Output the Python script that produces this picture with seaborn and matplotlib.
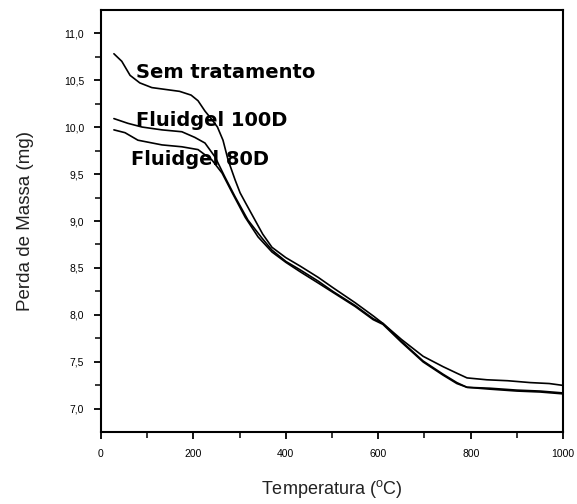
import numpy as np
import pandas as pd
import matplotlib
matplotlib.use("Agg")
import matplotlib.pyplot as plt
from matplotlib.ticker import MultipleLocator, FuncFormatter
import seaborn as sns

# data (temperature in C, mass in mg)
sem_temp = [28, 45, 63, 84, 110, 140, 170, 195, 210, 225, 240, 252, 264, 275, 290, 301,
            312, 331, 350, 370, 400, 431, 470, 502, 550, 589, 610, 650, 697, 740, 770,
            792, 835, 880, 929, 970, 1000]
sem_mass = [10.78, 10.70, 10.55, 10.47, 10.42, 10.40, 10.38, 10.34, 10.28, 10.17, 10.08, 10.00,
            9.86, 9.65, 9.44, 9.30, 9.20, 9.03, 8.86, 8.72, 8.61, 8.52, 8.40, 8.29, 8.13,
            7.99, 7.91, 7.74, 7.56, 7.45, 7.38, 7.33, 7.31, 7.30, 7.28, 7.27, 7.25]

f100_temp = [28, 58, 89, 132, 175, 203, 225, 247, 268, 290, 318, 348, 370, 400, 431, 470,
             502, 550, 589, 610, 650, 697, 740, 770, 792, 842, 900, 950, 1000]
f100_mass = [10.09, 10.04, 10.00, 9.97, 9.95, 9.89, 9.83, 9.68, 9.47, 9.26, 9.01, 8.82,
             8.69, 8.57, 8.48, 8.36, 8.25, 8.10, 7.96, 7.91, 7.72, 7.51, 7.37, 7.28, 7.23,
             7.22, 7.20, 7.19, 7.17]

f80_temp = [28, 52, 80, 132, 175, 210, 240, 262, 284, 312, 340, 370, 400, 431, 470, 502,
            550, 589, 610, 650, 697, 740, 770, 792, 842, 900, 950, 1000]
f80_mass = [9.97, 9.94, 9.86, 9.81, 9.79, 9.76, 9.65, 9.51, 9.30, 9.04, 8.83, 8.67, 8.56,
            8.46, 8.34, 8.24, 8.09, 7.95, 7.90, 7.71, 7.50, 7.36, 7.27, 7.23, 7.21, 7.19,
            7.18, 7.16]

labels = ["Sem tratamento", "Fluidgel 100D", "Fluidgel 80D"]

df = pd.concat([
    pd.DataFrame({"T": sem_temp, "m": sem_mass, "amostra": labels[0]}),
    pd.DataFrame({"T": f100_temp, "m": f100_mass, "amostra": labels[1]}),
    pd.DataFrame({"T": f80_temp, "m": f80_mass, "amostra": labels[2]}),
])

sns.set_style("ticks")
plt.rcParams['font.family'] = ['Liberation Sans', 'DejaVu Sans']
plt.rcParams['text.color'] = 'black'
plt.rcParams['xtick.color'] = 'black'
plt.rcParams['ytick.color'] = 'black'
plt.rcParams['axes.edgecolor'] = 'black'

fig = plt.figure(figsize=(5.77, 5.04), dpi=100)
ax = fig.add_axes([0.175, 0.143, 0.801, 0.837])

sns.lineplot(data=df, x="T", y="m", hue="amostra", units="amostra", estimator=None,
             palette=["black"] * 3, linewidth=1.2, legend=False, sort=False, ax=ax)

# curve labels
ax.text(76, 10.585, labels[0], fontsize=14, fontweight="bold", family="DejaVu Sans", va="center")
ax.text(76, 10.07, labels[1], fontsize=14, fontweight="bold", family="DejaVu Sans", va="center")
ax.text(65, 9.65, labels[2], fontsize=14, fontweight="bold", family="DejaVu Sans", va="center")

ax.set_xlim(0, 1000)
ax.set_ylim(6.755, 11.245)
ax.xaxis.set_major_locator(MultipleLocator(200))
ax.xaxis.set_minor_locator(MultipleLocator(100))
ax.yaxis.set_major_locator(MultipleLocator(0.5))
ax.yaxis.set_minor_locator(MultipleLocator(0.25))
ax.yaxis.set_major_formatter(FuncFormatter(lambda v, p: f"{v:.1f}".replace(".", ",")))

ax.tick_params(which="major", direction="out", length=5, width=1.3, labelsize=7.5, pad=7)
ax.tick_params(which="minor", direction="out", length=4, width=1.1)
for s in ax.spines.values():
    s.set_linewidth(1.5)
    s.set_visible(True)

ax.set_xlabel(r"Temperatura ($^{\mathregular{o}}$C)", fontsize=13, color="#222222", labelpad=14)
ax.set_ylabel("Perda de Massa (mg)", fontsize=13.5, color="#222222", labelpad=22)

fig.savefig("out.png", dpi=100)
